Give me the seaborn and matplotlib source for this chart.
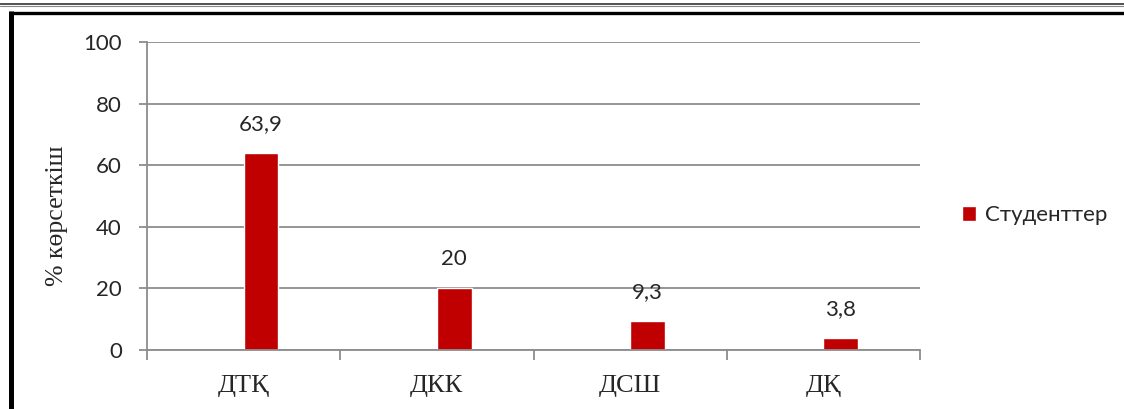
import matplotlib
matplotlib.use("Agg")
import matplotlib.pyplot as plt
from matplotlib.lines import Line2D
import seaborn as sns
import pandas as pd
import numpy as np

categories = ["ДТҚ", "ДКК", "ДСШ", "ДҚ"]
values = [63.9, 20, 9.3, 3.8]
value_labels = ["63,9", "20", "9,3", "3,8"]
series_name = "Студенттер"
y_ticks = [0, 20, 40, 60, 80, 100]
y_label = "% көрсеткіш"

sns.set_theme(style="white")
plt.rcParams["font.family"] = ["Lato", "DejaVu Sans"]

df = pd.DataFrame({"cat": categories, "val": values, "series": series_name})
# Excel-style cluster: an empty first slot puts the bar right of centre
hue_levels = ["_empty", series_name]

fig = plt.figure(figsize=(11.24, 4.09), dpi=100)
ax = fig.add_axes([147 / 1124, 1 - 350 / 409, (920 - 147) / 1124, (350 - 42) / 409])

red = "#C00000"
grid_c = "#8C8C8C"
sns.barplot(data=df, x="cat", y="val", hue="series", hue_order=hue_levels,
            palette=["#FFFFFF", red], width=0.36, dodge=True,
            ax=ax, legend=True, saturation=1)

ax.set_ylim(0, 100)
ax.set_xlim(-0.5, len(categories) - 0.5)
ax.set_yticks(y_ticks)
ax.set_yticklabels([str(t) for t in y_ticks], fontsize=16)
ax.yaxis.grid(True, color=grid_c, linewidth=1.3)
ax.set_axisbelow(True)
for s in ["top", "right"]:
    ax.spines[s].set_visible(False)
for s in ["left", "bottom"]:
    ax.spines[s].set_color(grid_c)
    ax.spines[s].set_linewidth(1.3)
ax.tick_params(axis="y", length=6, width=1.3, color=grid_c, direction="out", pad=12, left=True)
ax.set_xticks(range(len(categories)))
ax.set_xticklabels(categories, fontfamily="Liberation Serif", fontsize=19)
ax.tick_params(axis="x", which="major", length=0, pad=18)
ax.set_xticks(np.arange(-0.5, len(categories), 1.0), minor=True)
ax.tick_params(axis="x", which="minor", length=7, width=1.3, color=grid_c, direction="out", bottom=True)
ax.set_xlabel("")
ax.set_ylabel(y_label, fontfamily="Liberation Serif", fontsize=18.5)
ax.yaxis.set_label_coords((68 - 147) / 773, (350 - 216) / 308)

bar_container = ax.containers[-1]
ax.bar_label(bar_container, labels=value_labels, padding=14, fontsize=16)

handles, labels = ax.get_legend_handles_labels()
keep = [(h, l) for h, l in zip(handles, labels) if l == series_name]
ax.legend([k[0] for k in keep], [k[1] for k in keep],
          loc="center left", bbox_to_anchor=(962 / 1124, 1 - 215 / 409),
          bbox_transform=fig.transFigure, frameon=False, fontsize=16,
          borderaxespad=0, borderpad=0,
          handlelength=0.65, handleheight=0.65, handletextpad=0.4)

# decorative frame lines
fig.add_artist(Line2D([0, 1], [1 - 3.5 / 409, 1 - 3.5 / 409], color="#333333", linewidth=1.2))
fig.add_artist(Line2D([0, 1], [1 - 5.5 / 409, 1 - 5.5 / 409], color="#888888", linewidth=0.8))
fig.add_artist(Line2D([9 / 1124, 1], [1 - 12.5 / 409, 1 - 12.5 / 409], color="black",
                      linewidth=2.4, solid_capstyle="butt"))
fig.add_artist(Line2D([11 / 1124, 11 / 1124], [0, 1 - 11 / 409], color="black",
                      linewidth=3.6, solid_capstyle="butt"))

fig.savefig("out.png", dpi=100)
